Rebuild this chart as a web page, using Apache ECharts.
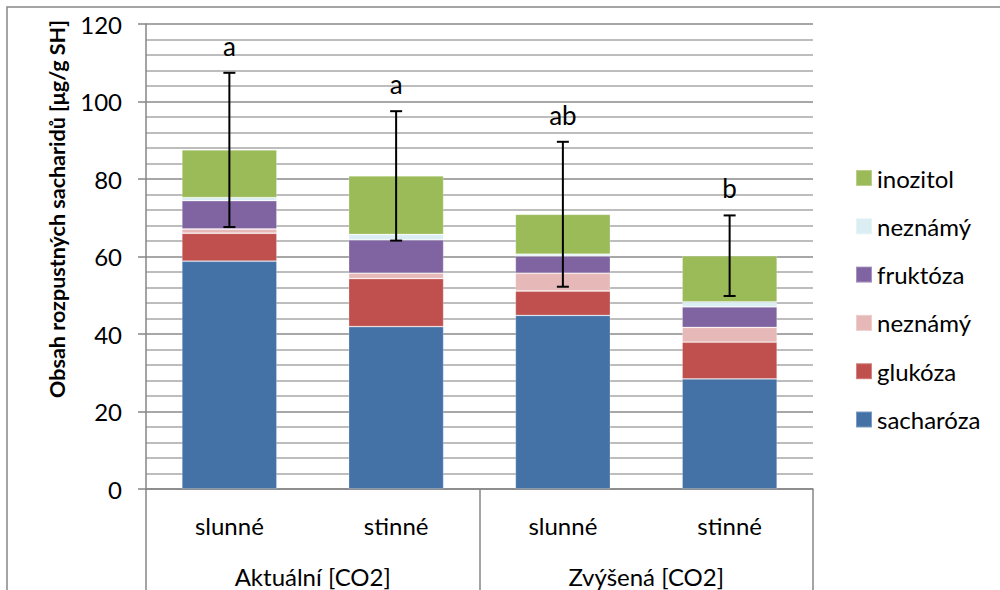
<!DOCTYPE html>
<html>
<head>
<meta charset="utf-8">
<script src="https://cdn.jsdelivr.net/npm/echarts@6/dist/echarts.min.js"></script>
<style>
html,body{margin:0;padding:0;background:#fff;}
#chart{width:1000px;height:590px;}
</style>
</head>
<body>
<div id="chart"></div>
<script>
// ---- data ----
var categories = ['slunné', 'stinné', 'slunné', 'stinné'];
var groups = ['Aktuální [CO2]', 'Zvýšená [CO2]'];
var sacharoza = [58.8, 41.9, 44.8, 28.4];
var glukoza   = [7.2, 12.4, 6.3, 9.5];
var neznamy1  = [1.1, 1.4, 4.6, 3.8];
var fruktoza  = [7.3, 8.6, 4.4, 5.3];
var neznamy2  = [0.8, 1.4, 0.5, 1.3];
var inozitol  = [12.3, 15.1, 10.3, 11.9];
var errors    = [19.9, 16.7, 18.7, 10.4];
var letters   = ['a', 'a', 'ab', 'b'];
var yTicks    = [0, 20, 40, 60, 80, 100, 120];

var FONT = 'Lato';
var stacks = [
  {name: 'sacharóza', data: sacharoza, color: '#4472a7'},
  {name: 'glukóza', data: glukoza, color: '#c0504d'},
  {name: 'neznámý', data: neznamy1, color: '#e6b9b8'},
  {name: 'fruktóza', data: fruktoza, color: '#8064a2'},
  {name: 'neznámý ', data: neznamy2, color: '#dbeef4'},
  {name: 'inozitol', data: inozitol, color: '#9bbb59'}
];

var totals = categories.map(function (c, i) {
  return stacks.reduce(function (s, st) { return s + st.data[i]; }, 0);
});
var errData = categories.map(function (c, i) { return [i, totals[i], errors[i]]; });

var series = stacks.map(function (st) {
  return {
    name: st.name, type: 'bar', stack: 'total', barWidth: '57%',
    data: st.data,
    itemStyle: {color: st.color, borderColor: 'rgba(255,255,255,0.3)', borderWidth: 0.8},
    emphasis: {disabled: true}
  };
});
series.push({
  type: 'custom', name: 'err', xAxisIndex: 0, yAxisIndex: 0, z: 10,
  data: errData,
  renderItem: function (params, api) {
    var idx = api.value(0), tot = api.value(1), e = api.value(2);
    var top = api.coord([idx, tot + e]);
    var bot = api.coord([idx, tot - e]);
    var cap = 6;
    var st = {stroke: '#000', lineWidth: 2};
    return {
      type: 'group',
      children: [
        {type: 'line', shape: {x1: top[0], y1: top[1], x2: bot[0], y2: bot[1]}, style: st},
        {type: 'line', shape: {x1: top[0] - cap, y1: top[1], x2: top[0] + cap, y2: top[1]}, style: st},
        {type: 'line', shape: {x1: bot[0] - cap, y1: bot[1], x2: bot[0] + cap, y2: bot[1]}, style: st},
        {type: 'text', style: {text: letters[params.dataIndex], x: top[0], y: top[1] - 14,
          textAlign: 'center', textVerticalAlign: 'bottom', fill: '#000', fontSize: 26, fontFamily: FONT}}
      ]
    };
  }
});

var chart = echarts.init(document.getElementById('chart'), null, {renderer: 'svg'});
chart.setOption({
  animation: false,
  backgroundColor: '#fff',
  textStyle: {fontFamily: FONT},
  grid: {left: 146, right: 187, top: 24, bottom: 101, containLabel: false},
  legend: {
    orient: 'vertical', left: 855, top: 166, padding: 0,
    data: ['inozitol', 'neznámý ', 'fruktóza', 'neznámý', 'glukóza', 'sacharóza'],
    icon: 'rect', itemWidth: 16, itemHeight: 16, itemGap: 24.3,
    textStyle: {fontSize: 24, color: '#000', fontFamily: FONT, lineHeight: 24},
    selectedMode: false
  },
  xAxis: [
    {
      type: 'category', data: categories, position: 'bottom',
      axisLine: {lineStyle: {color: '#868686', width: 1.5}},
      axisTick: {show: false},
      axisLabel: {fontSize: 24, color: '#000', margin: 24, fontFamily: FONT},
      splitLine: {show: false}
    },
    {
      type: 'category', data: groups, position: 'bottom', gridIndex: 0,
      axisLine: {show: false},
      axisTick: {show: true, length: 101, lineStyle: {color: '#868686', width: 1.5}},
      axisLabel: {fontSize: 24, color: '#000', margin: 75, fontFamily: FONT},
      splitLine: {show: false}
    }
  ],
  yAxis: {
    type: 'value', min: yTicks[0], max: yTicks[yTicks.length - 1], interval: 20,
    axisLine: {show: true, lineStyle: {color: '#868686', width: 1.5}},
    axisTick: {show: true, length: 8, lineStyle: {color: '#868686', width: 1.5}},
    axisLabel: {fontSize: 24, color: '#000', margin: 24, fontFamily: FONT},
    splitLine: {show: true, lineStyle: {color: '#8a8a8a', width: 1.5}},
    minorTick: {show: false, splitNumber: 5},
    minorSplitLine: {show: true, lineStyle: {color: '#bdbdbd', width: 2}}
  },
  graphic: [
    {type: 'rect', silent: true, z: -1, shape: {x: 7, y: 7, width: 1010, height: 600},
      style: {fill: 'none', stroke: '#868686', lineWidth: 1.5}},
    {type: 'text', silent: true, x: 57, y: 209, rotation: Math.PI / 2,
      style: {text: 'Obsah rozpustných sacharidů [μg/g SH]', textAlign: 'center', textVerticalAlign: 'middle',
        fontSize: 21.5, fontWeight: 'bold', fill: '#000', fontFamily: FONT}}
  ],
  series: series
});
</script>
</body>
</html>
